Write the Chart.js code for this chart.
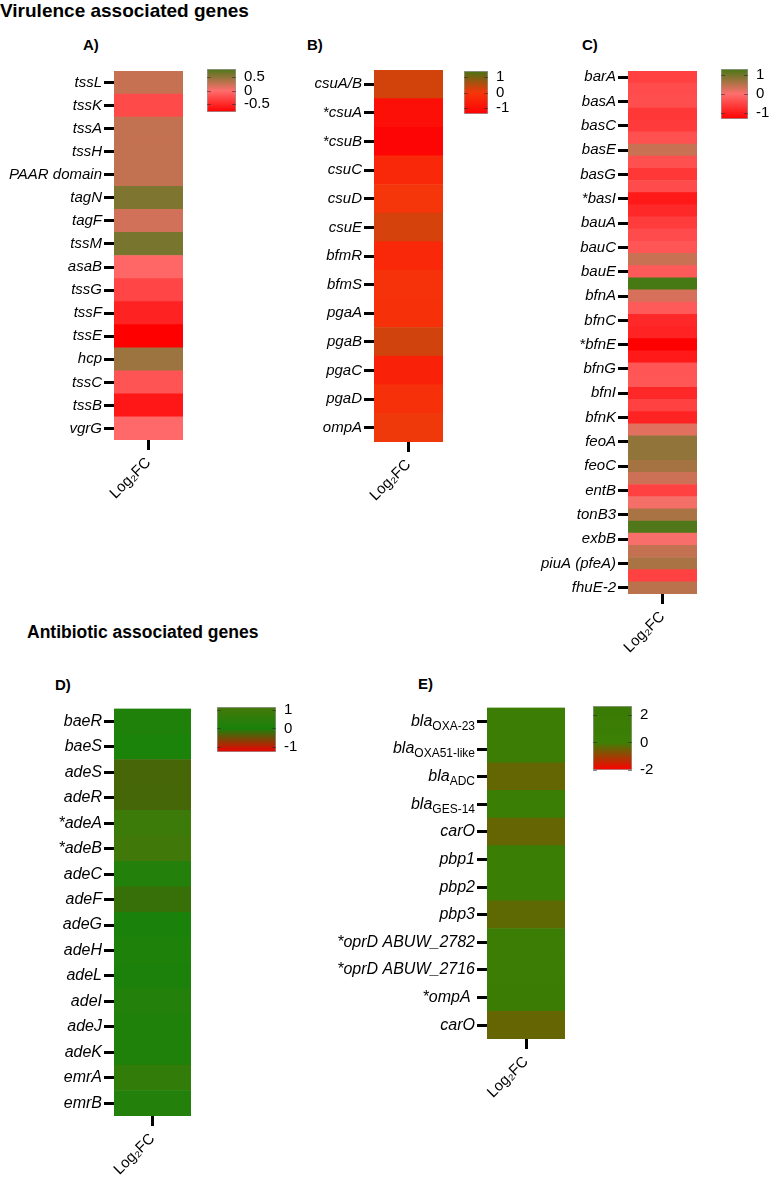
<!DOCTYPE html>
<html>
<head>
<meta charset="utf-8">
<script src="https://cdn.jsdelivr.net/npm/chart.js@4.4.1/dist/chart.umd.min.js"></script>
<style>
  html, body { margin: 0; padding: 0; background: #fff; overflow: hidden; }
  #page { position: relative; width: 775px; height: 1181px; overflow: hidden;
          font-family: "Liberation Sans", Arial, sans-serif; color: #000; }
  #page canvas { position: absolute; }
  .t { position: absolute; font-weight: bold; white-space: nowrap; line-height: 1; }
</style>
</head>
<body>
<div id="page">
  <div class="t" style="left:0;top:1px;font-size:19px">Virulence associated genes</div>
  <div class="t" style="left:27px;top:624px;font-size:17.5px">Antibiotic associated genes</div>
  <div class="t" style="left:83px;top:37px;font-size:15px">A)</div>
  <div class="t" style="left:307px;top:37px;font-size:15px">B)</div>
  <div class="t" style="left:582px;top:37px;font-size:15px">C)</div>
  <div class="t" style="left:55px;top:677px;font-size:15px">D)</div>
  <div class="t" style="left:418px;top:676px;font-size:15px">E)</div>
</div>
<script>
// ---- data (log2 fold change) ----
const genesA = ['tssL', 'tssK', 'tssA', 'tssH', 'PAAR domain', 'tagN', 'tagF', 'tssM',
                'asaB', 'tssG', 'tssF', 'tssE', 'hcp', 'tssC', 'tssB', 'vgrG'];
const fcA = [0.25, -0.26, 0.27, 0.27, 0.27, 0.58, 0.2, 0.6,
             -0.06, -0.3, -0.55, -0.8, 0.44, -0.19, -0.63, -0.04];

const genesB = ['csuA/B', '*csuA', '*csuB', 'csuC', 'csuD', 'csuE', 'bfmR', 'bfmS',
                'pgaA', 'pgaB', 'pgaC', 'pgaD', 'ompA'];
const fcB = [0.28, -1.02, -1.28, -0.39, -0.06, 0.26, -0.39, -0.12,
             -0.18, 0.29, -0.53, -0.18, 0.04];

// only every other row of panel C carries a label
const genesC = ['barA', '', 'basA', '', 'basC', '', 'basE', '', 'basG', '', '*basI', '',
                'bauA', '', 'bauC', '', 'bauE', '', 'bfnA', '', 'bfnC', '', '*bfnE', '',
                'bfnG', '', 'bfnI', '', 'bfnK', '', 'feoA', '', 'feoC', '', 'entB', '',
                'tonB3', '', 'exbB', '', 'piuA (pfeA)', '', 'fhuE-2'];
const fcC = [-0.53, -0.41, -0.38, -0.65, -0.62, -0.35, 0.39, -0.35, -0.65, -0.41, -1.0, -0.83,
             -0.59, -0.41, -0.3, 0.39, -0.24, 1.3, 0.28, -0.24, -0.83, -0.89, -1.3, -1.0,
             -0.3, -0.28, -0.83, -0.53, -0.89, 0.21, 0.77, 0.77, 0.63, 0.35, -0.53, 0.07,
             0.6, 1.23, 0.05, 0.42, 0.6, -0.53, 0.49];

const genesD = ['baeR', 'baeS', 'adeS', 'adeR', '*adeA', '*adeB', 'adeC', 'adeF',
                'adeG', 'adeH', 'adeL', 'adeI', 'adeJ', 'adeK', 'emrA', 'emrB'];
const fcD = [0.15, 0.05, -0.27, -0.26, 0.9, 1.0, 0.25, -0.18,
             0.02, 0.1, 0.08, 0.25, 0.15, 0.15, 0.65, 0.25];

// "main|subscript"
const genesE = ['bla|OXA-23', 'bla|OXA51-like', 'bla|ADC', 'bla|GES-14', 'carO', 'pbp1',
                'pbp2', 'pbp3', '*oprD ABUW_2782', '*oprD ABUW_2716', '*ompA ', 'carO'];
const fcE = [1.4, 1.2, -0.41, 0.9, -0.42, 1.1, 1.0, -0.36, 1.5, 1.3, 1.6, -0.42];

const ticksA = [0.5, 0, -0.5];
const ticksB = [1, 0, -1];
const ticksC = [1, 0, -1];
const ticksD = [1, 0, -1];
const ticksE = [2, 0, -2];

// ---- colour scales: [value, r, g, b] ----
const mapA = { min: -0.8, max: 0.8, stops: [[-0.8, 255, 0, 0], [0, 255, 110, 110], [0.8, 75, 120, 25]] };
const mapB = { min: -1.4, max: 1.4, stops: [[-1.4, 255, 0, 5], [0, 245, 55, 10], [1.4, 70, 115, 20]] };
const mapC = { min: -1.3, max: 1.3, stops: [[-1.3, 255, 0, 0], [0, 255, 110, 110], [1.3, 70, 120, 20]] };
const mapD = { min: -1.27, max: 1.16, stops: [[-1.27, 240, 0, 0], [0, 25, 130, 10], [1.16, 70, 120, 10]] };
const mapE = { min: -2, max: 2.65, stops: [[-2, 255, 0, 0], [0, 60, 128, 5], [2.65, 58, 122, 5]] };

const FONT = '"Liberation Sans", Arial, sans-serif';
Chart.defaults.font.family = FONT;
Chart.defaults.color = '#000';

const page = document.getElementById('page');

function addCanvas(left, top, w, h) {
    const cv = document.createElement('canvas');
    cv.width = w;
    cv.height = h;
    cv.style.left = left + 'px';
    cv.style.top = top + 'px';
    page.appendChild(cv);
    return cv;
}

function rgb(s) {
    return 'rgb(' + Math.round(s[1]) + ',' + Math.round(s[2]) + ',' + Math.round(s[3]) + ')';
}

function colorAt(map, v) {
    const st = map.stops;
    if (v <= st[0][0]) return rgb(st[0]);
    for (let i = 1; i < st.length; i++) {
        if (v <= st[i][0]) {
            const a = st[i - 1], b = st[i];
            const t = (v - a[0]) / (b[0] - a[0]);
            return rgb([v, a[1] + (b[1] - a[1]) * t, a[2] + (b[2] - a[2]) * t, a[3] + (b[3] - a[3]) * t]);
        }
    }
    return rgb(st[st.length - 1]);
}

// draws "bla" italic with an upright subscript for panel E
const subLabels = {
    id: 'subLabels',
    afterDraw(chart) {
        const sc = chart.scales.y;
        const c = chart.ctx;
        c.save();
        c.fillStyle = '#000';
        c.textBaseline = 'middle';
        c.textAlign = 'right';
        sc.ticks.forEach((t, i) => {
            const parts = String(chart.data.labels[i]).split('|');
            let x = sc.right - 12;
            const y = sc.getPixelForTick(i);
            if (parts[1]) {
                c.font = '12px ' + FONT;
                c.fillText(parts[1], x, y + 5);
                x -= c.measureText(parts[1]).width;
            }
            c.font = 'italic 16px ' + FONT;
            c.fillText(parts[0], x, y);
        });
        c.restore();
    }
};

function heatmap(box, labels, values, map, fontSize, withSubs) {
    const L = box.x0 - box.axisW;
    const T = box.top - 10;
    const cv = addCanvas(L, T, box.x1 - L + 10, box.bottom - T + 70);
    const tickCol = c => (c.tick && c.tick.label === '') ? 'rgba(0,0,0,0)' : '#000';
    return new Chart(cv, {
        type: 'bar',
        data: {
            labels: labels,
            datasets: [{
                data: values.map(() => [0, 1]),
                backgroundColor: values.map(v => colorAt(map, v)),
                borderWidth: 0,
                barPercentage: 1,
                categoryPercentage: 1
            }]
        },
        options: {
            indexAxis: 'y',
            responsive: false,
            animation: false,
            devicePixelRatio: 1,
            layout: { padding: { left: 0, top: 10, right: 10, bottom: 0 } },
            plugins: { legend: { display: false }, tooltip: { enabled: false } },
            scales: {
                y: {
                    grid: { offset: false, drawOnChartArea: false, tickLength: 10, lineWidth: 3, color: tickCol },
                    border: { display: false },
                    ticks: {
                        autoSkip: false, padding: 2,
                        color: withSubs ? 'rgba(0,0,0,0)' : '#000',
                        font: { size: fontSize, style: 'italic' }
                    },
                    afterFit: s => { s.width = box.axisW; }
                },
                x: {
                    min: 0, max: 1,
                    grid: { drawOnChartArea: false, tickLength: 10, lineWidth: 3, color: '#000' },
                    border: { display: false },
                    ticks: { minRotation: 45, maxRotation: 45, padding: 4, font: { size: 15 }, callback: () => 'Log₂FC' },
                    afterBuildTicks: s => { s.ticks = [{ value: 0.5 }]; },
                    afterFit: s => { s.height = 70; }
                }
            }
        },
        plugins: withSubs ? [subLabels] : []
    });
}

function gradientFor(chart, map) {
    if (!chart.chartArea || !chart.scales.y) return colorAt(map, 0);
    const y = chart.scales.y;
    const g = chart.ctx.createLinearGradient(0, y.getPixelForValue(map.min), 0, y.getPixelForValue(map.max));
    map.stops.forEach(s => g.addColorStop((s[0] - map.min) / (map.max - map.min), rgb(s)));
    return g;
}

// small dark dashes on both inner edges of the colour bar, at the tick values
const edgeTicks = {
    id: 'edgeTicks',
    afterDatasetsDraw(chart) {
        const a = chart.chartArea, y = chart.scales.y, c = chart.ctx;
        c.save();
        c.strokeStyle = 'rgba(40,40,40,0.55)';
        c.lineWidth = 1;
        y.ticks.forEach(t => {
            const py = Math.round(y.getPixelForValue(t.value)) + 0.5;
            c.beginPath();
            c.moveTo(a.left, py); c.lineTo(a.left + 4, py);
            c.moveTo(a.right - 4, py); c.lineTo(a.right, py);
            c.stroke();
        });
        c.restore();
    }
};

function colorbar(box, map, tickVals) {
    const cv = addCanvas(box.x0 - 2, box.y0 - 20, box.x1 - box.x0 + 2 + 40, box.y1 - box.y0 + 40);
    return new Chart(cv, {
        type: 'bar',
        data: {
            labels: [''],
            datasets: [{
                data: [[map.min, map.max]],
                backgroundColor: c => gradientFor(c.chart, map),
                borderColor: '#9a9a9a',
                borderWidth: 1,
                borderSkipped: false,
                barPercentage: 1,
                categoryPercentage: 1
            }]
        },
        options: {
            responsive: false,
            animation: false,
            devicePixelRatio: 1,
            layout: { padding: { left: 2, top: 20, bottom: 20, right: 0 } },
            plugins: { legend: { display: false }, tooltip: { enabled: false } },
            scales: {
                x: { display: false },
                y: {
                    position: 'right',
                    min: map.min, max: map.max,
                    grid: { display: false, drawTicks: false },
                    border: { display: false },
                    ticks: { padding: 8, font: { size: 15 }, callback: v => String(v) },
                    afterBuildTicks: s => { s.ticks = tickVals.map(v => ({ value: v })); },
                    afterFit: s => { s.width = 40; }
                }
            }
        },
        plugins: [edgeTicks]
    });
}

// ---- layout ----
heatmap({ x0: 114, x1: 183, top: 70, bottom: 440, axisW: 114 }, genesA, fcA, mapA, 15, false);
heatmap({ x0: 374, x1: 443, top: 69, bottom: 442, axisW: 134 }, genesB, fcB, mapB, 15, false);
heatmap({ x0: 628, x1: 697, top: 70, bottom: 594, axisW: 128 }, genesC, fcC, mapC, 15, false);
heatmap({ x0: 114, x1: 191, top: 707, bottom: 1116, axisW: 114 }, genesD, fcD, mapD, 16, false);
heatmap({ x0: 487, x1: 565, top: 706, bottom: 1039, axisW: 160 }, genesE, fcE, mapE, 16, true);

colorbar({ x0: 207, x1: 236, y0: 69, y1: 112 }, mapA, ticksA);
colorbar({ x0: 464, x1: 488, y0: 71, y1: 114 }, mapB, ticksB);
colorbar({ x0: 721, x1: 748, y0: 69, y1: 119 }, mapC, ticksC);
colorbar({ x0: 217, x1: 276, y0: 707, y1: 752 }, mapD, ticksD);
colorbar({ x0: 593, x1: 632, y0: 706, y1: 770 }, mapE, ticksE);
</script>
</body>
</html>
